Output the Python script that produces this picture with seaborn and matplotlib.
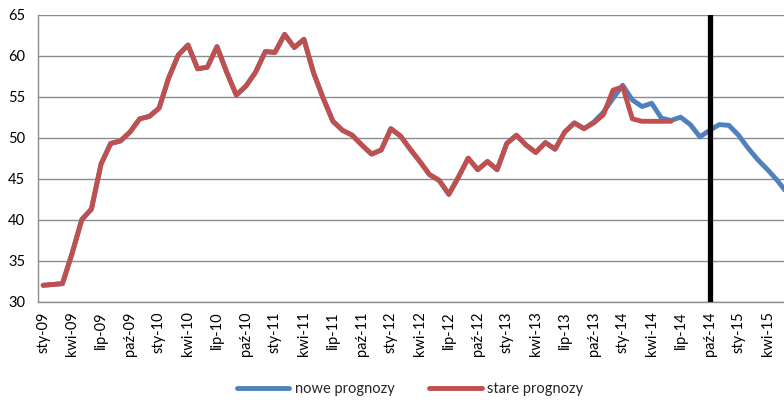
import matplotlib
matplotlib.use("Agg")
import matplotlib.pyplot as plt
import numpy as np
import pandas as pd
import seaborn as sns

sns.set_style("white")
plt.rcParams["font.family"] = ["Lato", "DejaVu Sans"]

# Polish month abbreviations and years for the category axis
miesiace = ["sty", "lut", "mar", "kwi", "maj", "cze",
            "lip", "sie", "wrz", "paź", "lis", "gru"]
lata = ["09", "10", "11", "12", "13", "14", "15"]

# old forecasts: Jan 2009 .. Jun 2014
stare = [
    32.0, 32.1, 32.2, 35.9, 40.0, 41.3, 46.8, 49.3, 49.6, 50.7, 52.3, 52.6,
    53.6, 57.3, 60.1, 61.3, 58.4, 58.6, 61.1, 58.0, 55.2, 56.3, 58.0, 60.5,
    60.4, 62.6, 61.0, 62.0, 57.9, 54.8, 52.0, 50.9, 50.3, 49.1, 48.0, 48.5,
    51.1, 50.2, 48.6, 47.1, 45.5, 44.8, 43.1, 45.2, 47.5, 46.1, 47.1, 46.1,
    49.3, 50.3, 49.1, 48.2, 49.4, 48.6, 50.7, 51.8, 51.1, 51.8, 52.8, 55.8,
    56.2, 52.3, 52.0, 52.0, 52.0, 52.0,
]

# new forecasts: Jan 2009 .. Jun 2015
nowe = [
    32.0, 32.1, 32.2, 35.9, 40.0, 41.3, 46.8, 49.3, 49.6, 50.7, 52.3, 52.6,
    53.6, 57.3, 60.1, 61.3, 58.4, 58.6, 61.1, 58.0, 55.2, 56.3, 58.0, 60.5,
    60.4, 62.6, 61.0, 62.0, 57.9, 54.8, 52.0, 50.9, 50.3, 49.1, 48.0, 48.5,
    51.1, 50.2, 48.6, 47.1, 45.5, 44.8, 43.1, 45.2, 47.5, 46.1, 47.1, 46.1,
    49.3, 50.3, 49.1, 48.2, 49.4, 48.6, 50.7, 51.8, 51.1, 51.9, 53.1, 54.8,
    56.4, 54.6, 53.8, 54.2, 52.4, 52.1, 52.5, 51.6, 50.1, 50.9, 51.6, 51.5,
    50.3, 48.7, 47.3, 46.1, 44.8, 43.3,
]

okresy = [f"{m}-{r}" for r in lata for m in miesiace][:len(nowe)]
znacznik = "paź-14"

df = pd.concat([
    pd.DataFrame({"t": np.arange(len(nowe)), "v": nowe, "seria": "nowe prognozy"}),
    pd.DataFrame({"t": np.arange(len(stare)), "v": stare, "seria": "stare prognozy"}),
], ignore_index=True)

fs = 10.5
fig = plt.figure(figsize=(7.84, 4.01), dpi=100)
ax = fig.add_axes([38.3 / 784, 1 - 301.7 / 401, 1 - 38.3 / 784, (301.7 - 14.7) / 401])

sns.lineplot(data=df, x="t", y="v", hue="seria",
             hue_order=["nowe prognozy", "stare prognozy"],
             palette=["#4F81BD", "#C0504D"], linewidth=3.5,
             sort=False, legend=False, ax=ax)
for ln in ax.lines:
    ln.set_solid_capstyle("round")
    ln.set_solid_joinstyle("round")

ax.axvline(okresy.index(znacznik), color="black", linewidth=3.8, zorder=5)

grid_c = "#8c8c8c"
ax.set_ylim(30, 65)
ax.set_xlim(-0.5, 76.7)
ax.set_yticks(np.arange(30, 66, 5))
ax.yaxis.grid(True, color=grid_c, linewidth=1.0)
ax.set_axisbelow(True)

ax.set_xticks(np.arange(0, len(okresy), 3))
ax.set_xticklabels(okresy[::3], rotation=90, ha="center", va="top")
ax.set_xticks(np.arange(-0.5, 77, 3), minor=True)
ax.tick_params(axis="x", which="major", length=0, pad=7, labelsize=fs, colors="black")
ax.tick_params(axis="x", which="minor", length=3.5, width=1.0, color=grid_c)
ax.tick_params(axis="y", which="major", length=3.5, width=1.0, color=grid_c,
               pad=6, labelsize=fs, labelcolor="black")

for side in ["top", "right"]:
    ax.spines[side].set_visible(False)
for side in ["left", "bottom"]:
    ax.spines[side].set_color(grid_c)
    ax.spines[side].set_linewidth(1.0)

ax.set_xlabel("")
ax.set_ylabel("")

fig.legend(handles=ax.lines[:2], labels=["nowe prognozy", "stare prognozy"],
           loc="center", bbox_to_anchor=(410 / 784, 1 - 389 / 401), ncol=2,
           frameon=False, fontsize=fs, handlelength=3.6, handletextpad=0.35,
           columnspacing=2.4)

fig.savefig("out.png", dpi=100)
